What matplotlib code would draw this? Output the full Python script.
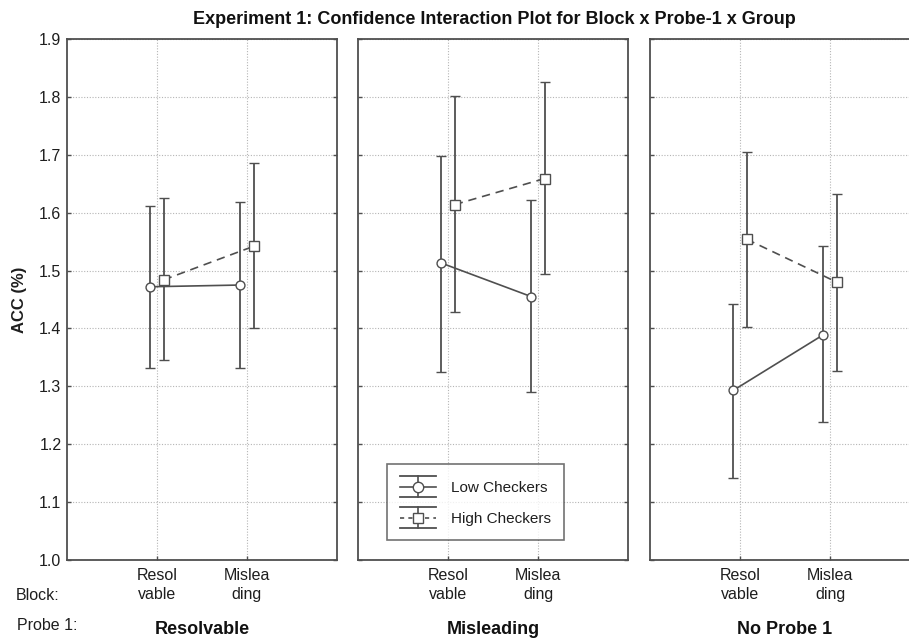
import matplotlib
matplotlib.use("Agg")
import matplotlib.pyplot as plt
from matplotlib.lines import Line2D
from matplotlib.legend_handler import HandlerBase

plt.rcParams['font.family'] = ['Liberation Sans', 'DejaVu Sans']

# ---------------- data ----------------
panels = ["Resolvable", "Misleading", "No Probe 1"]
blocks = ["Resol\nvable", "Mislea\nding"]
groups = ["Low Checkers", "High Checkers"]

low_mean = [[1.472, 1.475], [1.513, 1.455], [1.293, 1.389]]
low_lo = [[1.332, 1.332], [1.325, 1.290], [1.142, 1.238]]
low_hi = [[1.612, 1.618], [1.698, 1.622], [1.443, 1.543]]

high_mean = [[1.484, 1.542], [1.614, 1.659], [1.554, 1.480]]
high_lo = [[1.345, 1.400], [1.429, 1.494], [1.403, 1.327]]
high_hi = [[1.625, 1.686], [1.802, 1.826], [1.704, 1.633]]

yticks = [1.0, 1.1, 1.2, 1.3, 1.4, 1.5, 1.6, 1.7, 1.8, 1.9]

# ---------------- style ----------------
W, H = 909, 638
col = "#4f4f4f"
txt = "#1e1e1e"
fig = plt.figure(figsize=(W / 100, H / 100), dpi=100)

def fx(px):
    return px / W

def fy(py):
    return 1 - py / H

ax_left = [67, 358, 650]
ax_w, ax_top, ax_bot = 270, 39, 560
off = 0.075

series = [
    (low_mean, low_lo, low_hi, '-', 'o', 6.4),
    (high_mean, high_lo, high_hi, (0, (5, 3.5)), 's', 6.8),
]

axes = []
for p, name in enumerate(panels):
    ax = fig.add_axes([fx(ax_left[p]), fy(ax_bot), fx(ax_w), (ax_bot - ax_top) / H])
    axes.append(ax)
    for s, (m, lo, hi, ls, mk, ms) in enumerate(series):
        xs = [1 + i + (-off if s == 0 else off) for i in range(len(blocks))]
        ys = m[p]
        yerr = [[ys[i] - lo[p][i] for i in range(len(blocks))],
                [hi[p][i] - ys[i] for i in range(len(blocks))]]
        ax.errorbar(xs, ys, yerr=yerr, color=col, linestyle=ls, linewidth=1.2,
                    marker=mk, markersize=ms, markerfacecolor='white',
                    markeredgecolor=col, markeredgewidth=1.0,
                    ecolor=col, elinewidth=1.3, capsize=3.5, capthick=1.3, zorder=3)
    ax.set_xlim(0, 3)
    ax.set_ylim(1.0, 1.9)
    ax.set_yticks(yticks)
    ax.set_xticks([1, 2])
    ax.set_xticklabels(blocks, fontsize=11.5, color=txt, linespacing=1.3)
    if p == 0:
        ax.set_yticklabels([f"{v:.1f}" for v in yticks], fontsize=11.5, color=txt)
        ax.set_ylabel("ACC (%)", fontsize=12, fontweight='bold', color=txt)
        ax.yaxis.set_label_coords(-0.148, 0.5)
    else:
        ax.set_yticklabels([])
    ax.tick_params(axis='both', direction='in', length=3, width=1.0, color=col,
                   left=True, right=True, bottom=True, top=False)
    ax.tick_params(axis='y', pad=4)
    ax.tick_params(axis='x', pad=6)
    ax.grid(True, linestyle=(0, (1, 1.5)), color='#b5b5b5', linewidth=0.8)
    ax.set_axisbelow(True)
    for sp in ax.spines.values():
        sp.set_color(col)
        sp.set_linewidth(1.3)
    fig.text(fx(ax_left[p] + ax_w / 2), fy(630), name, ha='center', va='center',
             fontsize=13, fontweight='bold', color='#111111')

fig.text(fx(494), fy(19), "Experiment 1: Confidence Interaction Plot for Block x Probe-1 x Group",
         ha='center', va='center', fontsize=13, fontweight='bold', color='#111111')
fig.text(fx(16), fy(595), "Block:", ha='left', va='center', fontsize=11.5, color=txt)
fig.text(fx(17), fy(626), "Probe 1:", ha='left', va='center', fontsize=11.5, color=txt)


# ---------------- legend ----------------
class ErrHandler(HandlerBase):
    def __init__(self, ls, marker, ms):
        super().__init__()
        self.ls = ls
        self.marker = marker
        self.ms = ms

    def create_artists(self, legend, orig_handle, xdescent, ydescent, width, height,
                       fontsize, trans):
        cx = width / 2 - xdescent
        cy = height / 2 - ydescent
        x0, x1 = -xdescent, width - xdescent
        d = 7.7
        arts = [
            Line2D([x0, x1], [cy + d, cy + d], color=col, lw=1.3),
            Line2D([x0, x1], [cy - d, cy - d], color=col, lw=1.3),
            Line2D([cx, cx], [cy - d, cy + d], color=col, lw=1.2),
            Line2D([x0, x1], [cy, cy], color=col, lw=1.2, linestyle=self.ls),
            Line2D([cx], [cy], marker=self.marker, markersize=self.ms,
                   markerfacecolor='white', markeredgecolor=col, markeredgewidth=1.0),
        ]
        for a in arts:
            a.set_transform(trans)
        return arts


h_low = Line2D([], [], color=col)
h_high = Line2D([], [], color=col)
leg = axes[1].legend(
    [h_low, h_high], groups,
    handler_map={h_low: ErrHandler('-', 'o', 7.5), h_high: ErrHandler((0, (2.5, 2.5)), 's', 7.5)},
    loc='lower left', bbox_to_anchor=(fx(387), fy(540)), bbox_transform=fig.transFigure,
    fontsize=11, frameon=True, fancybox=False, handlelength=2.4, handleheight=1.6,
    labelspacing=0.75, borderpad=0.82, handletextpad=1.0, borderaxespad=0)
leg.get_frame().set_edgecolor(col)
leg.get_frame().set_linewidth(1.2)
for t in leg.get_texts():
    t.set_color(txt)

fig.savefig("out.png", dpi=100)
